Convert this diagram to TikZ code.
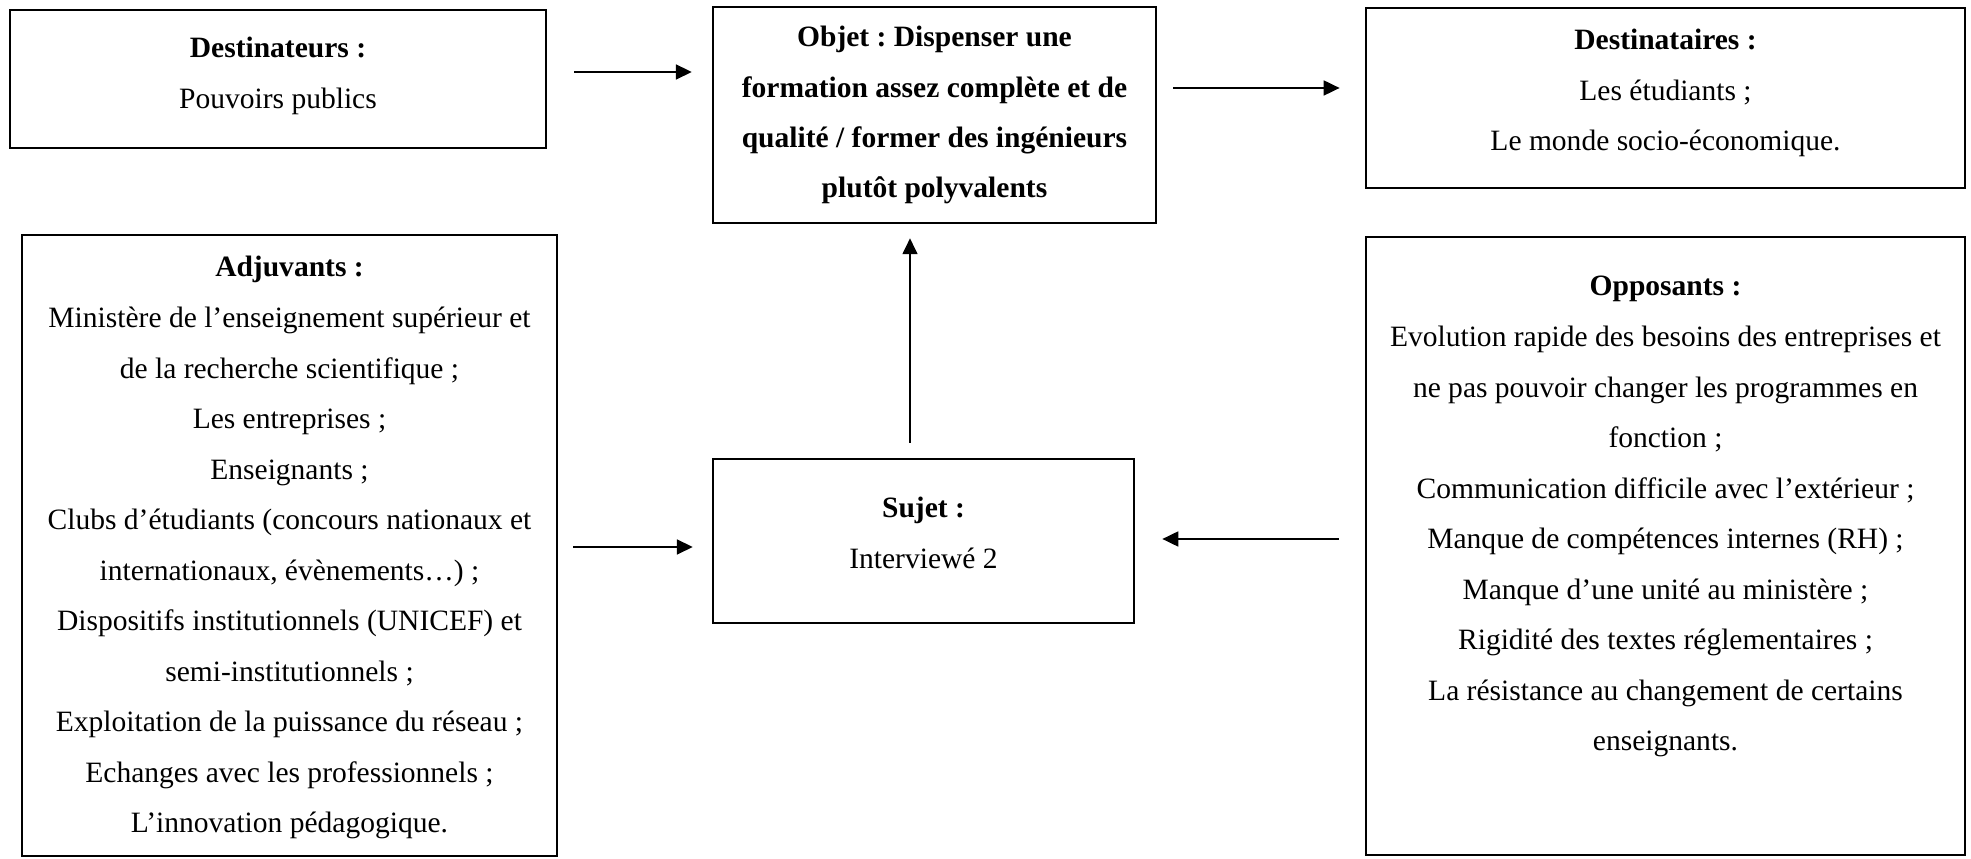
\documentclass[tikz,border=0pt]{standalone}
\usepackage{fontspec}
\setmainfont{Liberation Serif}
\usetikzlibrary{arrows.meta}
\frenchspacing
\newcommand{\tb}[2]{\fontsize{12pt}{#1}\selectfont\frenchspacing\begin{tabular}[t]{@{}c@{}}#2\end{tabular}}
\begin{document}
\begin{tikzpicture}[x=0.4065pt, y=-0.4065pt,
  box/.style 2 args={draw, line width=1pt, inner sep=0pt, minimum width=#1*0.4065pt, minimum height=#2*0.4065pt},
  txt/.style={anchor=base, inner sep=0pt},
  arr/.style={line width=1pt, -{Triangle[length=6.5pt,width=6pt]}}]
\fill[white] (0,0) rectangle (1971,859);
\useasboundingbox (0,0) rectangle (1971,859);
% boxes
\node[box={536}{138}] (dest) at (278,79) {};
\node[box={443}{216}] (objet) at (934.5,115) {};
\node[box={599}{180}] (destin) at (1665.5,98) {};
\node[box={535}{621}] (adj) at (289.5,545.5) {};
\node[box={421}{164}] (sujet) at (923.5,541) {};
\node[box={599}{618}] (opp) at (1665.5,546) {};
% texts
\node[txt] (destT) at (278,58) {\tb{20.33pt}{\textbf{Destinateurs :}\\Pouvoirs publics}};
\node[txt] (objetT) at (934.5,47) {\tb{20.33pt}{\textbf{Objet : Dispenser une}\\\textbf{formation assez complète et de}\\\textbf{qualité / former des ingénieurs}\\\textbf{plutôt polyvalents}}};
\node[txt] (destinT) at (1665.5,50) {\tb{20.33pt}{\textbf{Destinataires :}\\Les étudiants ;\\Le monde socio-économique.}};
\node[txt] (adjT) at (289.5,277) {\tb{20.53pt}{\textbf{Adjuvants :}\\Ministère de l’enseignement supérieur et\\de la recherche scientifique ;\\Les entreprises ;\\Enseignants ;\\Clubs d’étudiants (concours nationaux et\\internationaux, évènements…) ;\\Dispositifs institutionnels (UNICEF) et\\semi-institutionnels ;\\Exploitation de la puissance du réseau ;\\Echanges avec les professionnels ;\\L’innovation pédagogique.}};
\node[txt] (sujetT) at (923.5,518) {\tb{20.33pt}{\textbf{Sujet :}\\Interviewé 2}};
\node[txt] (oppT) at (1665.5,296) {\tb{20.53pt}{\textbf{Opposants :}\\Evolution rapide des besoins des entreprises et\\ne pas pouvoir changer les programmes en\\fonction ;\\Communication difficile avec l’extérieur ;\\Manque de compétences internes (RH) ;\\Manque d’une unité au ministère ;\\Rigidité des textes réglementaires ;\\La résistance au changement de certains\\enseignants.}};
% connectors
\coordinate (y1) at (0,72);
\coordinate (y2) at (0,88);
\coordinate (x3) at (910,0);
\coordinate (y4) at (0,547);
\coordinate (y5) at (0,539);
\draw[arr, shorten <=11pt, shorten >=8.1pt] (dest.east |- y1) -- (objet.west |- y1);
\draw[arr, shorten <=6.5pt, shorten >=10.2pt] (objet.east |- y2) -- (destin.west |- y2);
\draw[arr, shorten <=6.1pt, shorten >=5.7pt] (sujet.north -| x3) -- (objet.south -| x3);
\draw[arr, shorten <=6.1pt, shorten >=7.7pt] (adj.east |- y4) -- (sujet.west |- y4);
\draw[arr, shorten <=10.6pt, shorten >=11pt] (opp.west |- y5) -- (sujet.east |- y5);
\end{tikzpicture}
\end{document}
